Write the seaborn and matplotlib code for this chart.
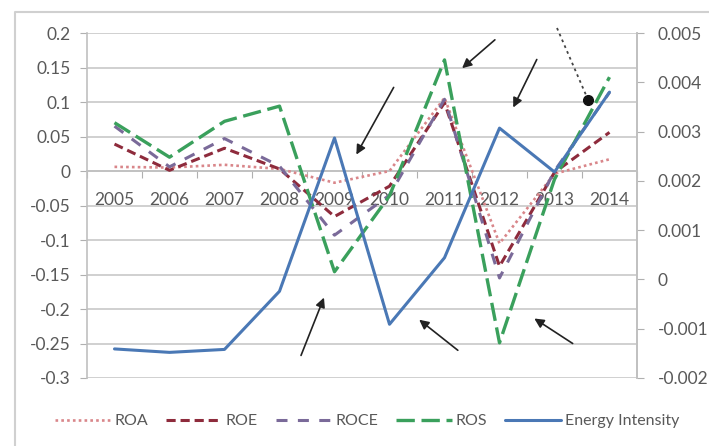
import numpy as np
import pandas as pd
import matplotlib
matplotlib.use("Agg")
import matplotlib.pyplot as plt
from matplotlib.lines import Line2D
from matplotlib.ticker import FuncFormatter
import seaborn as sns

years = ['2005', '2006', '2007', '2008', '2009', '2010', '2011', '2012', '2013', '2014']
roa = [0.006, 0.005, 0.009, 0.003, -0.017, 0.000, 0.106, -0.105, -0.004, 0.017]
roe = [0.039, 0.001, 0.033, 0.003, -0.066, -0.022, 0.099, -0.138, -0.002, 0.056]
roce = [0.065, 0.006, 0.047, 0.007, -0.093, -0.035, 0.104, -0.155, 0.000, 0.114]
ros = [0.070, 0.020, 0.072, 0.094, -0.146, -0.036, 0.161, -0.249, -0.012, 0.136]
energy = [-0.00141, -0.00148, -0.00142, -0.00024, 0.00287, -0.00091, 0.00044, 0.00307, 0.00218, 0.00380]

df = pd.DataFrame({'pos': np.arange(len(years)), 'ROA': roa, 'ROE': roe,
                   'ROCE': roce, 'ROS': ros, 'Energy Intensity': energy})

sns.set_style("white")
plt.rcParams['font.family'] = ['Lato', 'DejaVu Sans']
txt = '#595959'

W, H = 709, 446
fig = plt.figure(figsize=(W / 100, H / 100), dpi=100)
ax = fig.add_axes([87 / W, 1 - 378 / H, (637 - 87) / W, (378 - 33) / H])
ax2 = ax.twinx()

styles = {
    'ROA': dict(color='#d9868a', linestyle=(0, (1, 1.2)), linewidth=1.9),
    'ROE': dict(color='#8e2b3c', linestyle=(0, (3, 1.6)), linewidth=2.2),
    'ROCE': dict(color='#7a6a99', linestyle=(0, (3.6, 3.4)), linewidth=2.2),
    'ROS': dict(color='#3aa05c', linestyle=(0, (5.5, 2)), linewidth=2.4),
}
for name, st in styles.items():
    sns.lineplot(data=df, x='pos', y=name, ax=ax, label=name, zorder=3, **st)
sns.lineplot(data=df, x='pos', y='Energy Intensity', ax=ax2, label='Energy Intensity',
             color='#4a78b5', linewidth=2.2, zorder=3)

# left axis
ax.set_ylim(-0.3, 0.2)
ax.set_yticks(np.arange(-0.3, 0.201, 0.05))
ax.yaxis.set_major_formatter(FuncFormatter(lambda v, _: f"{round(v, 3) + 0:g}"))
ax.grid(axis='y', color='#c8c8c8', linewidth=1.2)
ax.set_axisbelow(True)
ax.set_xlim(-0.5, len(years) - 0.5)
ax.set_xlabel('')
ax.set_ylabel('')

# category axis crossing at zero
ax.spines['bottom'].set_position(('data', 0))
ax.spines['top'].set_visible(False)
for s in ['left', 'bottom', 'right']:
    ax.spines[s].set_color('#c0c0c0')
    ax.spines[s].set_linewidth(1.2)
ax.set_xticks(np.arange(-0.5, len(years), 1.0))
ax.set_xticklabels([])
ax.set_xticks(np.arange(len(years)), minor=True)
ax.set_xticklabels(years, minor=True)
ax.tick_params(axis='x', which='major', direction='out', length=5, color='#b0b0b0', bottom=True)
ax.tick_params(axis='x', which='minor', length=0, pad=15, labelsize=12.5, labelcolor=txt)
ax.tick_params(axis='y', direction='out', length=5, color='#b0b0b0', left=True,
               pad=7, labelsize=12.5, labelcolor=txt)

# right axis
ax2.set_ylim(-0.002, 0.005)
ax2.set_yticks(np.arange(-0.002, 0.00501, 0.001))
ax2.yaxis.set_major_formatter(FuncFormatter(lambda v, _: f"{round(v, 4) + 0:g}"))
ax2.set_ylabel('')
for s in ['top', 'left', 'bottom']:
    ax2.spines[s].set_visible(False)
ax2.spines['right'].set_color('#c0c0c0')
ax2.spines['right'].set_linewidth(1.2)
ax2.tick_params(axis='y', direction='out', length=5, color='#b0b0b0', right=True,
                pad=10, labelsize=12.5, labelcolor=txt)

# legend
h1, l1 = ax.get_legend_handles_labels()
h2, l2 = ax2.get_legend_handles_labels()
ax.get_legend().remove()
ax2.get_legend().remove()
fig.legend(h1 + h2, l1 + l2, loc='center', bbox_to_anchor=(367 / W, 1 - 421 / H),
           ncol=5, frameon=False, fontsize=11.5, handlelength=3.5, handletextpad=0.25,
           columnspacing=1.1, labelcolor=txt)

# hand-drawn arrows
def fp(x, y):
    return (x / W, 1 - y / H)

arrows = [((395, 85), (355, 157)), ((497, 38), (460, 70)), ((538, 57), (512, 110)),
          ((300, 358), (325, 295)), ((460, 352), (417, 318)), ((575, 345), (532, 317))]
for tail, head in arrows:
    ax2.annotate('', xy=fp(*head), xytext=fp(*tail), xycoords='figure fraction',
                 textcoords='figure fraction', annotation_clip=False,
                 arrowprops=dict(arrowstyle='-|>', color='#222222', lw=1.2, mutation_scale=14))

x0, y0 = fp(557, 28)
x1, y1 = fp(586, 95)
fig.add_artist(Line2D([x0, x1], [y0, y1], transform=fig.transFigure, color='#444444',
                      linestyle=(0, (1.5, 2)), linewidth=1.3))
xd, yd = fp(588, 100)
fig.add_artist(Line2D([xd], [yd], transform=fig.transFigure, marker='o', markersize=7,
                      color='#111111', linestyle='none'))

# chart area border
bx0, by0 = fp(15, 446)
bx1, by1 = fp(15, 12)
bx2, _ = fp(709, 12)
fig.add_artist(Line2D([bx0, bx1, bx2], [by0, by1, by1], transform=fig.transFigure,
                      color='#d0d0d0', linewidth=1.5))

fig.savefig('out.png', dpi=100)
